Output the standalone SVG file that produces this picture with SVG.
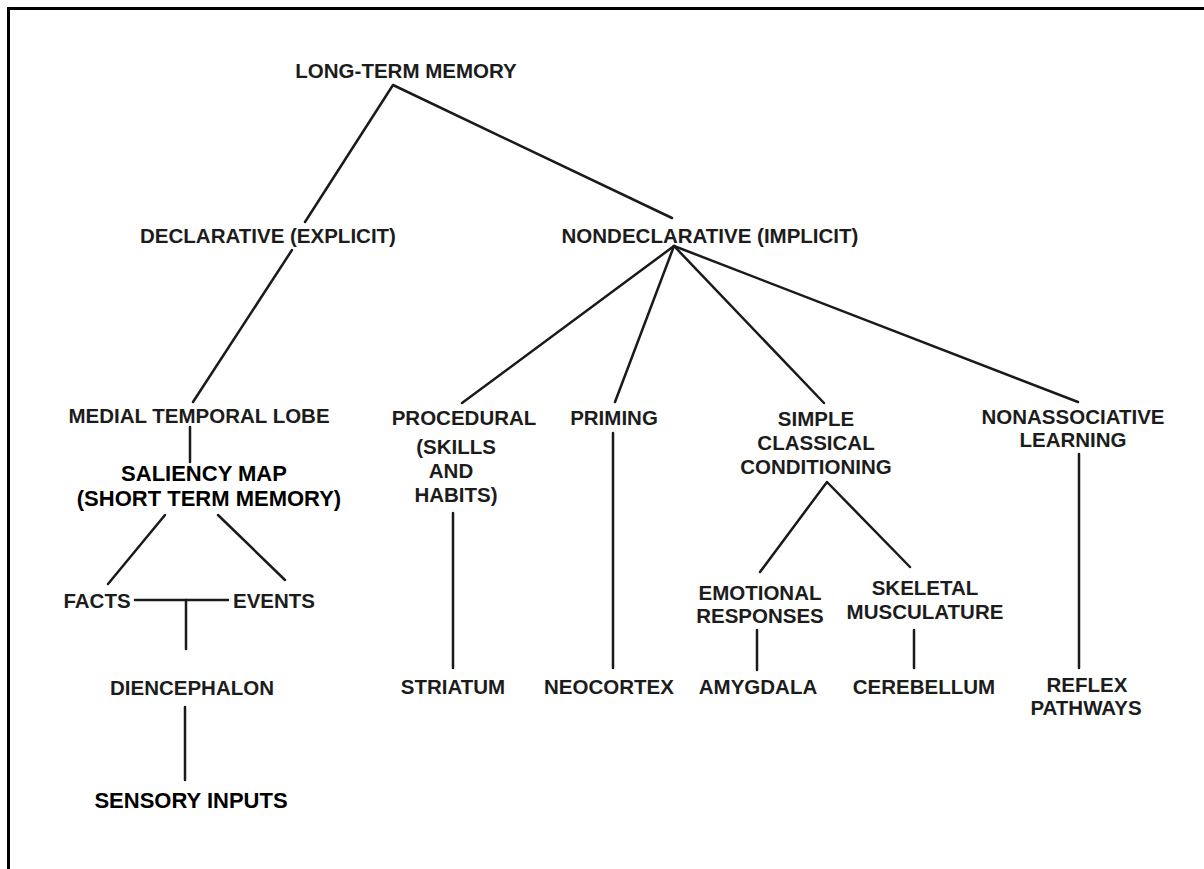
<svg xmlns="http://www.w3.org/2000/svg" width="1204" height="869" viewBox="0 0 1204 869">
<style>
.t{font-family:"Liberation Sans",Arial,sans-serif;font-weight:bold;font-size:20.5px;fill:#1c1c1c;text-anchor:middle}
.s{font-family:"Liberation Sans",Arial,sans-serif;font-weight:bold;font-size:22px;fill:#000;text-anchor:middle}
.c line,.c polyline{stroke:#1a1a1a;stroke-width:2.5;fill:none;stroke-linecap:round;stroke-linejoin:round}
</style>
<rect width="1204" height="869" fill="#fff"/>
<g id="frame">
<line x1="8.5" y1="8.5" x2="1204" y2="8.5" stroke="#000" stroke-width="3"/>
<line x1="8.5" y1="7" x2="8.5" y2="869" stroke="#000" stroke-width="3"/>
</g>
<g id="connectors" class="c">
<polyline points="305,222 393,85 672,218"/>
<line x1="292" y1="250" x2="193" y2="402"/>
<line x1="190" y1="427" x2="190" y2="462"/>
<line x1="165" y1="515" x2="108" y2="584"/>
<line x1="218" y1="515" x2="285" y2="580"/>
<line x1="135" y1="600" x2="228" y2="600"/>
<line x1="186" y1="600" x2="186" y2="649"/>
<line x1="185" y1="707" x2="185" y2="780"/>
<line x1="674" y1="246" x2="462" y2="403"/>
<line x1="674" y1="246" x2="615" y2="402"/>
<line x1="674" y1="246" x2="824" y2="403"/>
<line x1="674" y1="246" x2="1078" y2="402"/>
<line x1="453" y1="513" x2="453" y2="668"/>
<line x1="613" y1="433" x2="613" y2="668"/>
<polyline points="760,572 827,482 910,567"/>
<line x1="757" y1="630" x2="757" y2="670"/>
<line x1="914" y1="630" x2="914" y2="668"/>
<line x1="1079" y1="454" x2="1079" y2="668"/>
</g>
<g id="ltm"><text class="t" x="406" y="78">LONG-TERM MEMORY</text></g>
<g id="declarative"><text class="t" x="268" y="243">DECLARATIVE (EXPLICIT)</text></g>
<g id="nondeclarative"><text class="t" x="710" y="243">NONDECLARATIVE (IMPLICIT)</text></g>
<g id="mtl"><text class="t" x="199" y="423">MEDIAL TEMPORAL LOBE</text></g>
<g id="saliency"><text class="s" x="204" y="481">SALIENCY MAP</text><text class="s" x="209" y="506">(SHORT TERM MEMORY)</text></g>
<g id="facts"><text class="t" x="97" y="608">FACTS</text></g>
<g id="events"><text class="t" x="274" y="608">EVENTS</text></g>
<g id="diencephalon"><text class="t" x="192" y="695">DIENCEPHALON</text></g>
<g id="sensory"><text class="s" x="191" y="808">SENSORY INPUTS</text></g>
<g id="procedural"><text class="t" x="464" y="425">PROCEDURAL</text><text class="t" x="456" y="454">(SKILLS</text><text class="t" x="451" y="478">AND</text><text class="t" x="456" y="502">HABITS)</text></g>
<g id="priming"><text class="t" x="614" y="425">PRIMING</text></g>
<g id="conditioning"><text class="t" x="816" y="426">SIMPLE</text><text class="t" x="816" y="450">CLASSICAL</text><text class="t" x="816" y="474">CONDITIONING</text></g>
<g id="nonassociative"><text class="t" x="1073" y="424">NONASSOCIATIVE</text><text class="t" x="1073" y="447">LEARNING</text></g>
<g id="emotional"><text class="t" x="760" y="600">EMOTIONAL</text><text class="t" x="760" y="623">RESPONSES</text></g>
<g id="skeletal"><text class="t" x="925" y="595">SKELETAL</text><text class="t" x="925" y="619">MUSCULATURE</text></g>
<g id="striatum"><text class="t" x="453" y="694">STRIATUM</text></g>
<g id="neocortex"><text class="t" x="609" y="694">NEOCORTEX</text></g>
<g id="amygdala"><text class="t" x="758" y="694">AMYGDALA</text></g>
<g id="cerebellum"><text class="t" x="924" y="694">CEREBELLUM</text></g>
<g id="reflex"><text class="t" x="1087" y="692">REFLEX</text><text class="t" x="1086" y="715">PATHWAYS</text></g>
</svg>
